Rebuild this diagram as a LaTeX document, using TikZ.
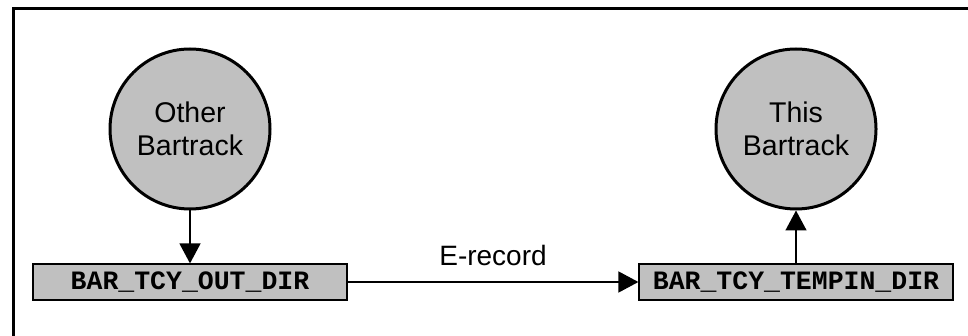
\documentclass[tikz,border=0pt]{standalone}
\usepackage{fontspec}
\setmainfont{Liberation Sans}
\newfontfamily\monob{Liberation Mono}
\usetikzlibrary{arrows.meta}
\definecolor{boxgray}{HTML}{C0C0C0}
\tikzset{
  proc/.style={circle, draw=black, line width=3pt, fill=boxgray, minimum size=160pt, inner sep=0pt, align=center, font=\fontsize{28.5}{33}\selectfont},
  store/.style={rectangle, draw=black, line width=1.2pt, fill=boxgray, minimum width=314pt, minimum height=36pt, inner sep=0pt, font=\monob\bfseries\fontsize{26.5}{26.5}\selectfont},
  flow/.style={line width=1.5pt, -{Triangle[width=21pt,length=20pt]}},
  lbl/.style={font=\fontsize{28}{28}\selectfont}
}
\begin{document}
\begin{tikzpicture}[x=1pt,y=-1pt]
\useasboundingbox (0,0) rectangle (968,336);
\begin{scope}
\clip (0,0) rectangle (968,336);
\draw[line width=3pt] (13.5,9) rectangle (1000,400);
\end{scope}
\node[proc] (other) at (190,129) {Other\\Bartrack};
\node[proc] (this) at (796,129) {This\\Bartrack};
\node[store] (out) at (190,282) {BAR\_TCY\_OUT\_DIR};
\node[store] (tempin) at (796,282) {BAR\_TCY\_TEMPIN\_DIR};
\draw[flow] (other) -- (out);
\draw[flow] (tempin) -- (this);
\draw[flow] (out) -- node[lbl, above=12pt] {E-record} (tempin);
\end{tikzpicture}
\end{document}
